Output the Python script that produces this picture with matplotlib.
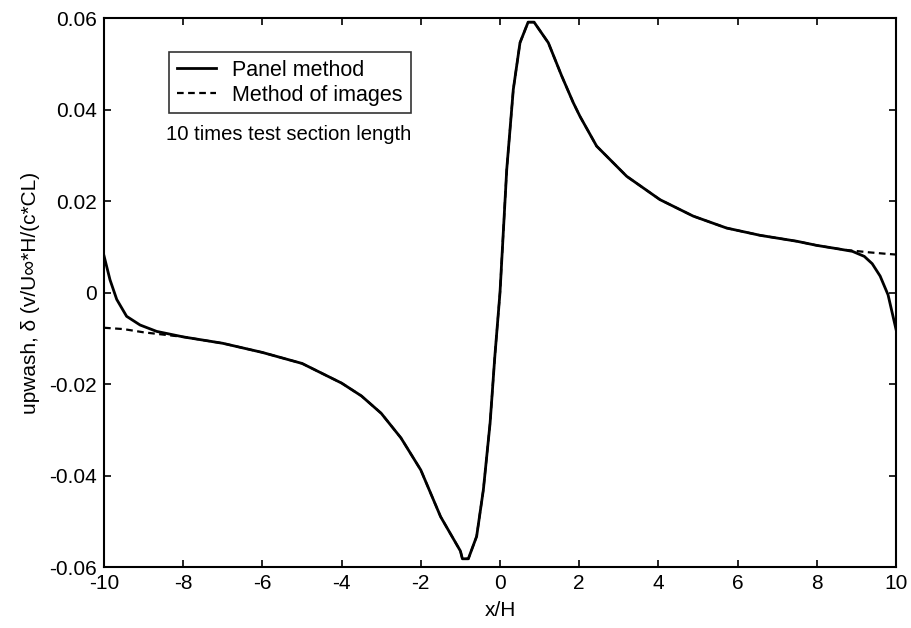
import numpy as np
import matplotlib
matplotlib.use("Agg")
import matplotlib.pyplot as plt

plt.rcParams['font.family'] = ['Liberation Sans', 'DejaVu Sans']
plt.rcParams['axes.unicode_minus'] = False

# panel method
panel_x = [-10.0, -9.85, -9.68, -9.43, -9.09, -8.67, -8.0, -7.0, -6.0, -5.0,
           -4.0, -3.5, -3.0, -2.5, -2.0, -1.5, -1.2, -1.0, -0.95, -0.8,
           -0.59, -0.42, -0.25, -0.13, 0.0, 0.17, 0.336, 0.505, 0.71, 0.86,
           1.22, 1.56, 1.85, 2.02, 2.44, 3.2, 4.04, 4.88, 5.72, 6.57,
           7.5, 8.0, 8.5, 8.9, 9.2, 9.4, 9.6, 9.8, 10.0]
panel_y = [0.0080, 0.0028, -0.0015, -0.0052, -0.0071, -0.0085, -0.0097, -0.0111, -0.0131, -0.0155,
           -0.0198, -0.0226, -0.0264, -0.0318, -0.0388, -0.0490, -0.0535, -0.0565, -0.0582, -0.0582,
           -0.0533, -0.0431, -0.0285, -0.0139, 0.0, 0.0269, 0.0444, 0.0546, 0.0591, 0.0591,
           0.0546, 0.0473, 0.0415, 0.0385, 0.0320, 0.0254, 0.0203, 0.0167, 0.0141, 0.0125,
           0.0112, 0.0103, 0.0096, 0.0090, 0.0079, 0.0063, 0.0036, -0.0005, -0.0080]

# method of images: differs from panel method only near the ends
images_left_x = [-10.0, -9.5, -9.0, -8.6]
images_left_y = [-0.0077, -0.0080, -0.0087, -0.0091]
images_right_x = [8.75, 9.3, 9.7, 10.0]
images_right_y = [0.0093, 0.0088, 0.0085, 0.0083]

xticks = [-10, -8, -6, -4, -2, 0, 2, 4, 6, 8, 10]
yticks = [-0.06, -0.04, -0.02, 0, 0.02, 0.04, 0.06]
ytick_labels = ['-0.06', '-0.04', '-0.02', '0', '0.02', '0.04', '0.06']

mid = [i for i, x in enumerate(panel_x) if -8.6 < x < 8.75]
images_x = images_left_x + [panel_x[i] for i in mid] + images_right_x
images_y = images_left_y + [panel_y[i] for i in mid] + images_right_y

fig = plt.figure(figsize=(9.11, 6.28), dpi=100)
ax = fig.add_axes([0.1142, 0.0971, 0.8693, 0.8742])

ax.plot(images_x, images_y, 'k--', lw=1.6, label='Method of images', dashes=(3, 2))
ax.plot(panel_x, panel_y, 'k-', lw=2.0, label='Panel method')

ax.set_xlim(-10, 10)
ax.set_ylim(-0.06, 0.06)
ax.set_xticks(xticks)
ax.set_yticks(yticks)
ax.set_yticklabels(ytick_labels)
ax.tick_params(direction='in', length=5, width=1.2, top=True, right=True,
               labelsize=15, pad=5)
for s in ax.spines.values():
    s.set_linewidth(1.5)

ax.set_xlabel('x/H', fontsize=15, labelpad=6)
ax.set_ylabel('upwash, \u03b4 (v/U\u221e*H/(c*CL)', fontsize=15, labelpad=7)

h, l = ax.get_legend_handles_labels()
leg = ax.legend(h[::-1], l[::-1], loc='upper left', bbox_to_anchor=(0.082, 0.938),
                borderaxespad=0, fontsize=15.5, frameon=True, fancybox=False,
                edgecolor='black', handlelength=1.85, borderpad=0.35,
                labelspacing=0.2, handletextpad=0.75)
leg.get_frame().set_linewidth(1.2)

ax.text(0.078, 0.788, '10 times test section length', transform=ax.transAxes,
        fontsize=14.6, va='center', ha='left')

fig.savefig('out.png', dpi=100)
